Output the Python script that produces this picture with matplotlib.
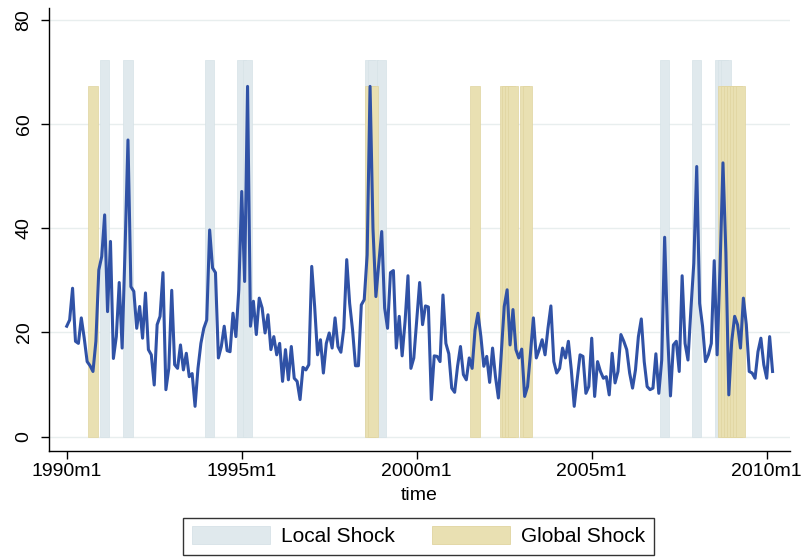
import matplotlib
matplotlib.use('Agg')
import matplotlib.pyplot as plt
from matplotlib.patches import Patch
import numpy as np

plt.rcParams['font.family'] = ['Liberation Sans', 'DejaVu Sans']

# monthly series, 1990m1 .. 2010m3
values = [21.2, 22.4, 28.5, 18.3, 17.9, 22.8, 18.9, 14.4, 13.6, 12.5,
          18.3, 32.0, 34.6, 42.6, 24.0, 37.5, 15.0, 19.2, 29.6, 17.0,
          36.0, 57.0, 28.8, 27.9, 20.8, 25.0, 18.9, 27.6, 16.7, 15.7,
          9.9, 21.5, 23.1, 31.5, 9.0, 13.1, 28.1, 13.8, 13.1, 17.6,
          12.8, 16.0, 11.5, 12.1, 5.8, 13.1, 17.9, 20.8, 22.4, 39.7,
          32.4, 31.5, 15.1, 17.3, 21.2, 16.5, 16.3, 23.7, 19.2, 28.2,
          47.1, 29.8, 67.3, 21.2, 26.0, 19.6, 26.6, 24.7, 19.9, 23.4,
          16.7, 19.2, 15.7, 17.9, 10.6, 16.7, 10.9, 17.3, 11.2, 10.6,
          7.1, 13.3, 12.8, 13.8, 32.7, 25.0, 15.7, 18.6, 12.2, 17.9,
          19.9, 17.0, 22.8, 17.3, 16.2, 20.8, 34.0, 25.6, 20.5, 13.6,
          13.6, 25.3, 26.3, 34.9, 67.3, 40.0, 26.9, 33.3, 39.4, 24.7,
          20.8, 31.5, 31.9, 17.0, 23.1, 15.5, 22.1, 30.9, 13.1, 15.1,
          22.4, 29.6, 21.5, 25.1, 24.9, 7.1, 15.5, 15.4, 14.4, 27.2,
          17.9, 15.9, 9.3, 8.5, 13.5, 17.3, 11.9, 10.9, 15.1, 13.1,
          20.5, 23.7, 19.2, 13.5, 15.4, 10.4, 17.0, 11.5, 7.4, 16.0,
          25.0, 28.2, 17.6, 24.4, 16.7, 15.1, 16.8, 7.7, 9.6, 16.0,
          22.8, 15.1, 16.7, 18.6, 15.7, 20.8, 25.1, 14.4, 12.2, 13.1,
          17.0, 15.1, 18.3, 12.8, 5.8, 10.9, 15.7, 15.4, 8.3, 9.6,
          18.9, 7.7, 14.4, 12.5, 11.2, 11.5, 8.0, 16.0, 10.3, 12.5,
          19.6, 18.3, 16.7, 12.2, 9.3, 12.8, 19.2, 22.6, 14.4, 9.6,
          9.0, 9.3, 15.9, 8.3, 14.7, 38.3, 19.9, 7.8, 17.6, 18.3,
          12.5, 30.9, 17.9, 14.7, 24.4, 33.3, 51.9, 25.6, 21.2, 14.4,
          15.7, 17.9, 33.8, 15.7, 32.7, 52.6, 35.3, 8.0, 18.3, 23.1,
          21.5, 17.0, 26.6, 21.5, 12.5, 12.2, 11.2, 16.3, 18.9, 13.8,
          11.2, 19.2, 12.5]

# shock months (months since 1990m1)
local_months = [13, 21, 49, 60, 62, 104, 105, 108, 205, 216, 224, 225, 226]
global_months = [9, 104, 105, 140, 150, 151, 152, 153, 157, 158,
                 225, 226, 227, 228, 229, 230, 231]
local_height = 72.4
global_height = 67.4

tick_months = [0, 60, 120, 180, 240]
tick_labels = ['1990m1', '1995m1', '2000m1', '2005m1', '2010m1']

local_fc, local_ec = '#e0e9ed', '#d6e2e7'
global_fc, global_ec = '#e9e0b2', '#e0d49f'
line_c = '#3052a6'

fig = plt.figure(figsize=(8.07, 5.59), dpi=100)
ax = fig.add_axes([0.061, 0.194, 0.918, 0.792])

t = np.arange(len(values))
ax.bar(local_months, [local_height] * len(local_months), width=3.2,
       color=local_fc, edgecolor=local_ec, linewidth=0.5, zorder=2)
ax.bar(global_months, [global_height] * len(global_months), width=3.2,
       color=global_fc, edgecolor=global_ec, linewidth=0.5, zorder=3)
ax.plot(t, values, color=line_c, linewidth=2.2, zorder=4)

ax.set_xlim(-6, 248)
ax.set_ylim(-2.7, 82.4)
ax.set_yticks([0, 20, 40, 60, 80])
ax.set_xticks(tick_months)
ax.set_xticklabels(tick_labels)
ax.yaxis.grid(True, color='#e8eeee', linewidth=1.0, zorder=0)
ax.set_axisbelow(True)
for s in ['top', 'right']:
    ax.spines[s].set_visible(False)
for s in ['left', 'bottom']:
    ax.spines[s].set_linewidth(1.0)
    ax.spines[s].set_color('black')
ax.tick_params(axis='both', length=6, width=1.0, labelsize=14, direction='out')
ax.tick_params(axis='x', pad=3)
ax.tick_params(axis='y', pad=6)
for lab in ax.get_yticklabels():
    lab.set_rotation(90)
    lab.set_va('center')
ax.set_xlabel('time', fontsize=14, labelpad=5)

handles = [Patch(facecolor=local_fc, edgecolor=local_ec, linewidth=0.6, label='Local Shock'),
           Patch(facecolor=global_fc, edgecolor=global_ec, linewidth=0.6, label='Global Shock')]
leg = fig.legend(handles=handles, loc='center', bbox_to_anchor=(0.5185, 0.0405),
                 ncol=2, fontsize=15, frameon=True, fancybox=False,
                 handlelength=3.75, handleheight=0.95, handletextpad=0.55,
                 columnspacing=1.75, borderpad=0.42, borderaxespad=0)
leg.get_frame().set_edgecolor('black')
leg.get_frame().set_linewidth(1.0)

fig.savefig('out.png', dpi=100)
